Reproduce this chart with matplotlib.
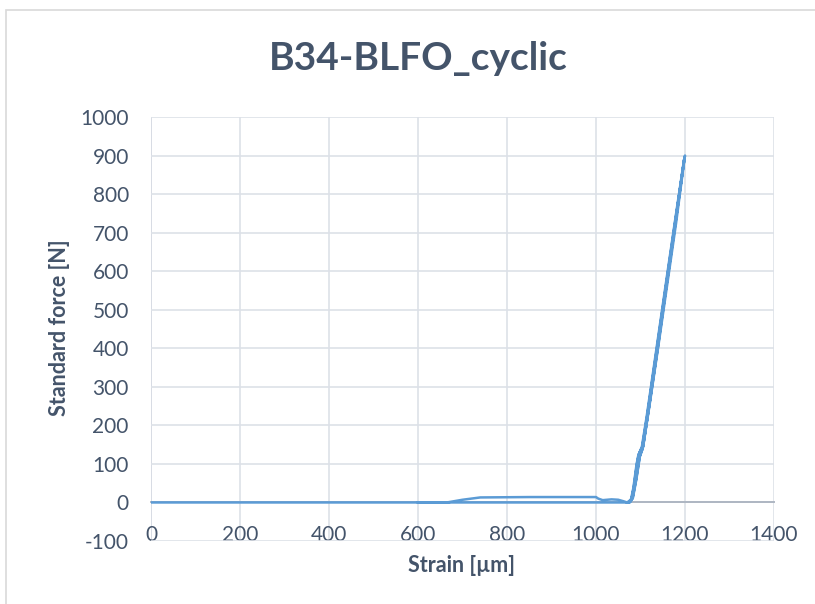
import matplotlib.pyplot as plt
from matplotlib.patches import Rectangle

plt.rcParams['font.family'] = ['Lato', 'DejaVu Sans']
plt.rcParams['axes.unicode_minus'] = False

TEXT = '#44546A'
GRID = '#DDE1E8'
LINE = '#5B9BD5'

# approach: crosshead travels to the specimen with no load
approach_strain = [0, 400, 800, 1000, 1040, 1060, 1072]
approach_force = [0, 0, 0, 0, 0, 0, 0]

# load / unload cycles
cycle_strain = [1072, 1080, 1085, 1092, 1096, 1100, 1104, 1115, 1130, 1145, 1160, 1180, 1200,
                1197, 1180, 1160, 1140, 1120, 1106, 1099, 1091, 1083, 1076,
                1079, 1086, 1093, 1097, 1101, 1106, 1117, 1132, 1147, 1162, 1181, 1199,
                1196, 1178, 1158, 1139, 1119, 1105, 1098, 1090, 1082, 1074,
                1078, 1084, 1091, 1095, 1099, 1103, 1114, 1129, 1144, 1159, 1179, 1198,
                1195, 1177, 1157, 1138, 1118, 1104, 1097, 1088, 1080, 1070]
cycle_force = [0, 10, 40, 100, 125, 135, 145, 225, 345, 465, 585, 745, 900,
               875, 725, 565, 405, 250, 145, 122, 62, 12, 0,
               5, 40, 102, 126, 136, 147, 232, 352, 472, 592, 747, 895,
               870, 720, 560, 402, 245, 140, 118, 58, 10, 0,
               4, 38, 98, 122, 133, 144, 224, 344, 464, 584, 742, 890,
               866, 716, 556, 398, 242, 138, 116, 55, 8, 0]

# retraction at the end of the test
retract_strain = [1070, 1062, 1050, 1035, 1015, 1005, 1000, 850, 740, 700, 665, 600]
retract_force = [0, 3, 7, 8, 6, 10, 14, 14, 13, 7, 0, 0]

strain = approach_strain + cycle_strain + retract_strain
force = approach_force + cycle_force + retract_force

x_ticks = [0, 200, 400, 600, 800, 1000, 1200, 1400]
y_ticks = [-100, 0, 100, 200, 300, 400, 500, 600, 700, 800, 900, 1000]

fig = plt.figure(figsize=(8.15, 6.04), dpi=100)
fig.patches.append(Rectangle((6 / 815, -0.1), 1.2, 1.1 - 10 / 604,
                             transform=fig.transFigure, fill=False,
                             edgecolor='#D9D9D9', linewidth=1.2))

ax = fig.add_axes([151 / 815, 1 - 541 / 604, (774 - 151) / 815, (541 - 117) / 604])
ax.plot(strain, force, color=LINE, linewidth=1.8, zorder=3)

ax.set_xlim(0, 1400)
ax.set_ylim(-100, 1000)
ax.set_xticks(x_ticks)
ax.set_yticks(y_ticks)
ax.grid(True, color=GRID, linewidth=1.2, zorder=0)
ax.axvline(0, color='#B4BCC8', linewidth=1.2, zorder=1)

for side in ['top', 'right', 'left']:
    ax.spines[side].set_visible(False)
ax.spines['bottom'].set_position(('data', 0))
ax.spines['bottom'].set_color('#AEB6C2')
ax.spines['bottom'].set_linewidth(1.4)
ax.spines['bottom'].set_zorder(2)

ax.tick_params(axis='both', length=0, labelsize=15, labelcolor=TEXT)
ax.tick_params(axis='x', pad=16)
ax.tick_params(axis='y', pad=16)

fig.text(0.513, 1 - 58 / 604, 'B34-BLFO_cyclic', ha='center', va='center',
         fontsize=28, fontweight='bold', color=TEXT)
fig.text(462 / 815, 1 - 565 / 604, 'Strain [µm]', ha='center', va='center',
         fontsize=15.5, fontweight='bold', color=TEXT)
fig.text(60 / 815, 1 - 328 / 604, 'Standard force [N]', ha='center', va='center',
         rotation=90, fontsize=15.5, fontweight='bold', color=TEXT)

fig.savefig('out.png', dpi=100)
